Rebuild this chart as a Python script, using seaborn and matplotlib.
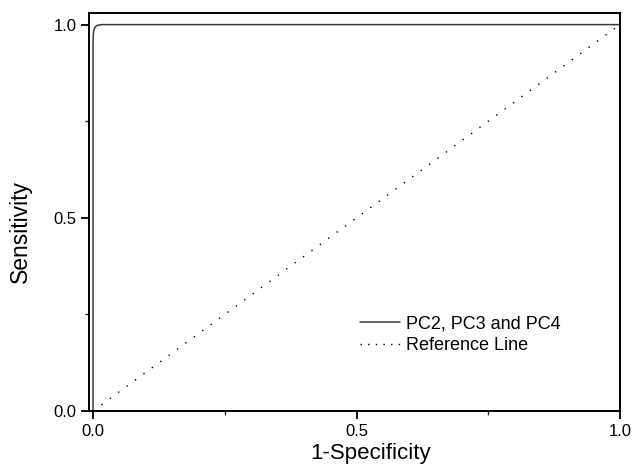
import matplotlib
matplotlib.use('Agg')
import matplotlib.pyplot as plt
import matplotlib.ticker as ticker
import seaborn as sns
import numpy as np
import pandas as pd

# ROC curve
fpr = [0.0, 0.0, 0.0005, 0.0015, 0.003, 0.005, 0.008, 0.012, 0.017, 0.022, 1.0]
tpr = [0.0, 0.95, 0.972, 0.984, 0.991, 0.995, 0.998, 0.999, 1.0, 1.0, 1.0]
ref_x = [0.0, 1.0]
ref_y = [0.0, 1.0]
ticks = [0.0, 0.5, 1.0]
tick_labels = ['0.0', '0.5', '1.0']

sns.set_style("ticks")
plt.rcParams['font.family'] = ['Liberation Sans', 'DejaVu Sans']
plt.rcParams['text.color'] = 'black'
plt.rcParams['axes.labelcolor'] = 'black'

fig = plt.figure(figsize=(6.33, 4.65), dpi=100)
ax = fig.add_axes([0.1406, 0.1161, 0.8389, 0.8559])

roc = pd.DataFrame({'fpr': fpr, 'tpr': tpr})
sns.lineplot(data=roc, x='fpr', y='tpr', sort=False, estimator=None,
             color='#3a3a3a', linewidth=1.1, label='PC2, PC3 and PC4', ax=ax)
sns.lineplot(x=ref_x, y=ref_y, color='black', linewidth=1.0,
             linestyle=(0, (1, 6.5)), label='Reference Line', ax=ax)

ax.set_xlim(-0.0076, 1.0)
ax.set_ylim(0.0, 1.03)
ax.set_xticks(ticks)
ax.set_xticklabels(tick_labels)
ax.set_yticks(ticks)
ax.set_yticklabels(tick_labels)
ax.xaxis.set_minor_locator(ticker.FixedLocator([0.25, 0.75]))
ax.yaxis.set_minor_locator(ticker.FixedLocator([0.25, 0.75]))
ax.tick_params(which='major', direction='out', length=6, width=1.3, labelsize=12,
               colors='black', pad=3)
ax.tick_params(which='minor', direction='out', length=3, width=1.0)
for s in ax.spines.values():
    s.set_linewidth(1.4)
    s.set_color('black')

ax.set_xlabel('1-Specificity', fontsize=16, va='top', color='black')
ax.xaxis.set_label_coords(0.531, -0.080)
ax.set_ylabel('Sensitivity', fontsize=16.5, color='black')
ax.yaxis.set_label_coords(-0.107, 0.452)

leg = ax.legend(loc='center left', bbox_to_anchor=(0.48, 0.192), frameon=False,
                fontsize=13, handlelength=2.2, handletextpad=0.33, labelspacing=0.25,
                labelcolor='black')
leg.get_lines()[1].set_linestyle((0, (1, 4.5)))

plt.savefig('out.png', dpi=100)
